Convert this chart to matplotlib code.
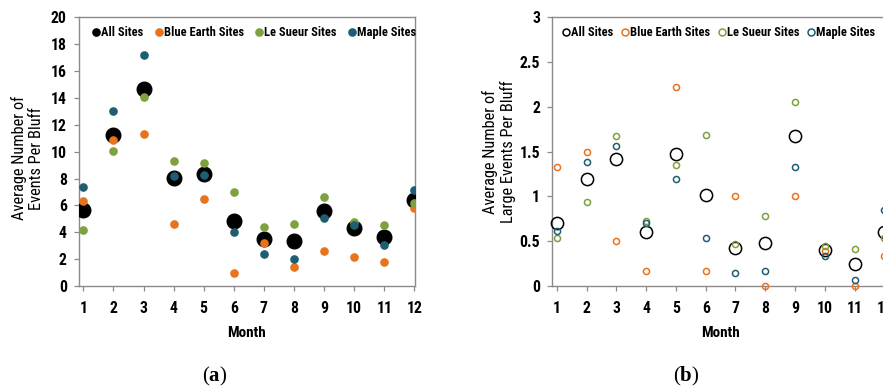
import matplotlib
matplotlib.use("Agg")
import matplotlib.pyplot as plt
from matplotlib import font_manager

months = list(range(1, 13))

# Panel (a): average number of events per bluff
a_all = [5.66, 11.24, 14.64, 8.06, 8.34, 4.86, 3.50, 3.37, 5.58, 4.29, 3.62, 6.40]
a_blue_earth = [6.30, 10.87, 11.32, 4.64, 6.45, 0.99, 3.23, 1.39, 2.58, 2.18, 1.79, 5.83]
a_le_sueur = [4.14, 10.05, 14.04, 9.31, 9.13, 6.97, 4.37, 4.64, 6.60, 4.79, 4.52, 6.15]
a_maple = [7.37, 13.00, 17.22, 8.21, 8.26, 4.00, 2.36, 1.99, 5.09, 4.54, 3.05, 7.15]

# Panel (b): average number of large events per bluff
b_all = [0.707, 1.195, 1.414, 0.607, 1.47, 1.012, 0.428, 0.48, 1.675, 0.402, 0.242, 0.607]
b_blue_earth = [1.33, 1.50, 0.50, 0.164, 2.22, 0.164, 1.00, 0.0, 1.00, 0.39, 0.0, 0.33]
b_le_sueur = [0.54, 0.94, 1.67, 0.73, 1.355, 1.69, 0.47, 0.78, 2.05, 0.45, 0.417, 0.536]
b_maple = [0.614, 1.38, 1.56, 0.70, 1.195, 0.54, 0.149, 0.164, 1.33, 0.33, 0.07, 0.845]

series_names = ["All Sites", "Blue Earth Sites", "Le Sueur Sites", "Maple Sites"]
colors = ["#000000", "#E8731E", "#7FA040", "#1F5E72"]

a_yticks = list(range(0, 21, 2))
b_yticks = [0, 0.5, 1, 1.5, 2, 2.5, 3]
b_yticklabels = ["0", "0.5", "1", "1.5", "2", "2.5", "3"]

avail = {f.name for f in font_manager.fontManager.ttflist}
narrow = "Liberation Sans"
for cand in ["Liberation Sans Narrow", "DejaVu Sans Condensed", "Roboto Condensed",
             "Open Sans Condensed"]:
    if cand in avail:
        narrow = cand
        break
plt.rcParams["font.family"] = [narrow, "DejaVu Sans"]
plt.rcParams["mathtext.fontset"] = "custom"
plt.rcParams["mathtext.rm"] = "Liberation Serif"
plt.rcParams["mathtext.bf"] = "Liberation Serif:bold"

W, H = 883, 387
fig = plt.figure(figsize=(W / 100, H / 100), dpi=100)

def px_axes(l, r, t, b):
    return fig.add_axes([l / W, (H - b) / H, (r - l) / W, (b - t) / H])

ax1 = px_axes(79, 415, 17.3, 286)
ax2 = px_axes(552.3, 888.3, 17.3, 286)

spine_col = "#8a8a8a"

def style(ax, xlim, ylim):
    ax.set_xlim(*xlim)
    ax.set_ylim(*ylim)
    for s in ax.spines.values():
        s.set_color(spine_col)
        s.set_linewidth(1.0)
    ax.tick_params(axis="both", direction="out", length=3.8, width=0.9,
                   color=spine_col, labelsize=11.3)
    ax.tick_params(axis="x", pad=7)
    ax.tick_params(axis="y", pad=5)
    ax.set_xticks(months)
    for lab in ax.get_xticklabels() + ax.get_yticklabels():
        lab.set_fontweight("bold")
    ax.set_xlabel("Month", fontsize=11, fontweight="bold", labelpad=7.5)

# Panel (a)
a_data = [a_all, a_blue_earth, a_le_sueur, a_maple]
for i, (name, vals, c) in enumerate(zip(series_names, a_data, colors)):
    ms = 10.5 if i == 0 else 5.2
    ax1.plot(months, vals, linestyle="none", marker="o", markersize=ms,
             color=c, markeredgecolor=c, label=name, zorder=3 + i)
ax1.set_yticks(a_yticks)
style(ax1, (0.857, 12.02), (0, 20))
ax1.set_ylabel("Average Number of\nEvents Per Bluff", fontsize=11.8, linespacing=1.15)
ax1.yaxis.set_label_coords(-0.105, 0.476)
leg1 = ax1.legend(loc="upper left", ncol=4, frameon=False, fontsize=9,
                  handletextpad=-0.1, columnspacing=0.75, borderaxespad=0.3,
                  handlelength=1.0, bbox_to_anchor=(0.005, 1.0))
for h in leg1.legend_handles:
    h.set_markersize(5.2)
for t in leg1.get_texts():
    t.set_fontweight("bold")

# Panel (b)
b_data = [b_all, b_blue_earth, b_le_sueur, b_maple]
for i, (name, vals, c) in enumerate(zip(series_names, b_data, colors)):
    ms = 8.8 if i == 0 else 4.4
    ax2.plot(months, vals, linestyle="none", marker="o", markersize=ms,
             markerfacecolor="none", markeredgecolor=c, markeredgewidth=1.1,
             label=name, zorder=3 + i, clip_on=False)
ax2.set_yticks(b_yticks)
ax2.set_yticklabels(b_yticklabels)
style(ax2, (0.85, 12.13), (0, 3))
ax2.set_ylabel("Average Number of\nLarge Events Per Bluff", fontsize=11.8, linespacing=1.15)
ax2.yaxis.set_label_coords(-0.108, 0.5)
leg2 = ax2.legend(loc="upper left", ncol=4, frameon=False, fontsize=9,
                  handletextpad=-0.1, columnspacing=0.45, borderaxespad=0.3,
                  handlelength=1.0, bbox_to_anchor=(-0.005, 1.0))
for h in leg2.legend_handles:
    h.set_markersize(5.0)
for t in leg2.get_texts():
    t.set_fontweight("bold")

fig.text(215 / W, 1 - 376 / H, r"$\mathrm{(}\mathbf{a}\mathrm{)}$", fontsize=15,
         ha="center", va="center")
fig.text(686 / W, 1 - 376 / H, r"$\mathrm{(}\mathbf{b}\mathrm{)}$", fontsize=15,
         ha="center", va="center")

fig.savefig("out.png", dpi=100)
